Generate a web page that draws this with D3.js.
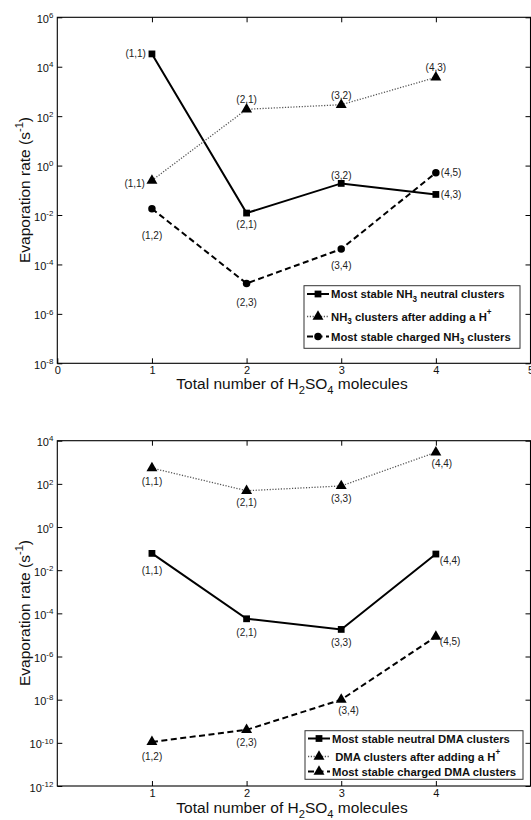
<!DOCTYPE html>
<html>
<head>
<meta charset="utf-8">
<script src="https://cdn.jsdelivr.net/npm/d3@7"></script>
<style>
  body { margin: 0; background: #fff; }
  text { font-family: Arial, "Liberation Sans", sans-serif; fill: #111; }
</style>
</head>
<body>
<svg id="chart" width="531" height="820"></svg>
<script>
/* global d3 */

// number of H2SO4 molecules
const acidCounts = [1, 2, 3, 4];

// NH3 panel
const nh3Neutral = [3.3e4, 1.2e-2, 0.19, 0.068];
const nh3NeutralLabels = ['(1,1)', '(2,1)', '(3,2)', '(4,3)'];
const nh3Protonated = [0.25, 190, 290, 3700];
const nh3ProtonatedLabels = ['(1,1)', '(2,1)', '(3,2)', '(4,3)'];
const nh3Charged = [0.018, 1.7e-5, 4.2e-4, 0.51];
const nh3ChargedLabels = ['(1,2)', '(2,3)', '(3,4)', '(4,5)'];
const nh3Legend = [
  'Most stable NH_{3} neutral clusters',
  'NH_{3} clusters after adding a H^{+}',
  'Most stable charged NH_{3} clusters',
];
const nh3Exponents = [-8, -6, -4, -2, 0, 2, 4, 6];
const nh3XTicks = [0, 1, 2, 3, 4, 5];

// DMA panel
const dmaNeutral = [0.06, 5.6e-5, 1.8e-5, 0.056];
const dmaNeutralLabels = ['(1,1)', '(2,1)', '(3,3)', '(4,4)'];
const dmaProtonated = [540, 48, 80, 2900];
const dmaProtonatedLabels = ['(1,1)', '(2,1)', '(3,3)', '(4,4)'];
const dmaCharged = [1.1e-10, 4e-10, 1e-8, 8.3e-6];
const dmaChargedLabels = ['(1,2)', '(2,3)', '(3,4)', '(4,5)'];
const dmaLegend = [
  'Most stable neutral DMA clusters',
  ' DMA clusters after adding a H^{+}',
  'Most stable charged DMA clusters',
];
const dmaExponents = [-12, -10, -8, -6, -4, -2, 0, 2, 4];
const dmaXTicks = [1, 2, 3, 4];

const yTitle = 'Evaporation rate (s^{-1})';
const xTitle = 'Total number of H_{2}SO_{4} molecules';

// where each point label sits relative to its marker: [dx, dy, anchor]
const L = (dx, dy) => [dx, dy, 'end'];
const R = (dx, dy) => [dx, dy, 'start'];
const C = (dx, dy) => [dx, dy, 'middle'];

const styles = {
  solid: { stroke: '#000', width: 2, dash: null },
  dotted: { stroke: '#555', width: 1.3, dash: '1.2,1.6' },
  dashed: { stroke: '#000', width: 2, dash: '6,3.5' },
};

const panels = [
  {
    top: 17.3, bottom: 363.3, exps: nh3Exponents, xTicks: nh3XTicks,
    series: [
      { values: nh3Neutral, labels: nh3NeutralLabels, style: 'solid', marker: d3.symbolSquare, size: 46,
        spots: [L(-6, 3.5), C(0, 14.5), C(0, -4.5), R(5, 3.5)] },
      { values: nh3Protonated, labels: nh3ProtonatedLabels, style: 'dotted', marker: d3.symbolTriangle, size: 52,
        spots: [L(-7, 7), C(0, -6), C(0, -6), C(0, -6)] },
      { values: nh3Charged, labels: nh3ChargedLabels, style: 'dashed', marker: d3.symbolCircle, size: 44,
        spots: [C(0, 30.5), C(0, 22.5), C(0, 19.5), R(5, 3.5)] },
    ],
    legend: { x: 304, y: 285.7, w: 216, h: 62.6, rows: [294, 316.5, 336.5], names: nh3Legend },
    yTitleY: 190, xTitleY: 389,
  },
  {
    top: 440.7, bottom: 786, exps: dmaExponents, xTicks: dmaXTicks,
    series: [
      { values: dmaNeutral, labels: dmaNeutralLabels, style: 'solid', marker: d3.symbolSquare, size: 46,
        spots: [C(0, 20.5), C(0, 17.5), C(0, 16.5), R(4, 10)] },
      { values: dmaProtonated, labels: dmaProtonatedLabels, style: 'dotted', marker: d3.symbolTriangle, size: 52,
        spots: [C(0, 16.5), C(0, 15.5), C(0, 16.5), C(6, 14.5)] },
      { values: dmaCharged, labels: dmaChargedLabels, style: 'dashed', marker: d3.symbolTriangle, size: 52,
        spots: [C(0, 18.5), C(0, 16.5), R(-3, 14.5), R(4, 8.5)] },
    ],
    legend: { x: 305, y: 730.7, w: 218, h: 48.6, rows: [738.5, 756.5, 771.5], names: dmaLegend },
    yTitleY: 613, xTitleY: 813,
  },
];

// text with _{sub} and ^{sup} parts
const richText = (textSel, str, fs) => {
  const parts = str.split(/(_\{[^}]*\}|\^\{[^}]*\})/).filter(p => p !== '');
  let shift = 0;
  parts.forEach(p => {
    let target = 0;
    let size = fs;
    let content = p;
    if (p.startsWith('_{')) {
      target = fs * 0.35; size = fs * 0.72; content = p.slice(2, -1);
    } else if (p.startsWith('^{')) {
      target = -fs * 0.45; size = fs * 0.72; content = p.slice(2, -1);
    }
    const t = textSel.append('tspan');
    if (target !== shift) t.attr('dy', target - shift);
    shift = target;
    t.style('font-size', `${size}px`).text(content);
  });
};

const svg = d3.select('#chart');
const x = d3.scaleLinear().domain([0, 5]).range([57.3, 530.5]);
const [left, right] = x.range();

panels.forEach(p => {
  const y = d3.scaleLog()
    .domain([10 ** p.exps[0], 10 ** p.exps[p.exps.length - 1]])
    .range([p.bottom, p.top]);
  const yTicks = p.exps.map(e => 10 ** e);
  const g = svg.append('g');

  // left axis with 10^n labels
  const yAxisG = g.append('g')
    .attr('transform', `translate(${left},0)`)
    .call(d3.axisLeft(y).tickValues(yTicks).tickSize(-5).tickPadding(4).tickFormat(''))
    .attr('font-family', null)
    .attr('font-size', null);
  yAxisG.select('.domain').remove();
  yAxisG.selectAll('.tick text')
    .style('text-anchor', 'end')
    .each(function addLabel(d) {
      richText(d3.select(this), `10^{${Math.round(Math.log10(d))}}`, 11);
    });

  // right axis, ticks only
  g.append('g')
    .attr('transform', `translate(${right},0)`)
    .call(d3.axisRight(y).tickValues(yTicks).tickSize(-5).tickFormat(''))
    .call(a => a.select('.domain').remove());

  // bottom axis
  const xAxisG = g.append('g')
    .attr('transform', `translate(0,${p.bottom})`)
    .call(d3.axisBottom(x).tickValues(p.xTicks).tickSize(-5).tickPadding(3).tickFormat(d3.format('d')))
    .attr('font-family', null)
    .attr('font-size', null);
  xAxisG.select('.domain').remove();
  xAxisG.selectAll('.tick text').style('font-size', '11px');

  // top axis, ticks only
  g.append('g')
    .attr('transform', `translate(0,${p.top})`)
    .call(d3.axisTop(x).tickValues(acidCounts).tickSize(-5).tickFormat(''))
    .call(a => a.select('.domain').remove());

  g.append('rect')
    .attr('x', left)
    .attr('y', p.top)
    .attr('width', right - left)
    .attr('height', p.bottom - p.top)
    .attr('fill', 'none')
    .attr('stroke', '#000')
    .attr('stroke-width', 1.1);

  // series
  const line = d3.line()
    .x((d, i) => x(acidCounts[i]))
    .y(d => y(d));

  p.series.forEach(s => {
    const st = styles[s.style];
    g.append('path')
      .attr('d', line(s.values))
      .attr('fill', 'none')
      .attr('stroke', st.stroke)
      .attr('stroke-width', st.width)
      .attr('stroke-dasharray', st.dash);

    const sym = d3.symbol().type(s.marker).size(s.size);
    g.selectAll(null)
      .data(s.values)
      .enter().append('path')
        .attr('d', sym)
        .attr('transform', (d, i) => `translate(${x(acidCounts[i])},${y(d)})`)
        .attr('fill', '#000');

    g.selectAll(null)
      .data(s.values)
      .enter().append('text')
        .attr('x', (d, i) => x(acidCounts[i]) + s.spots[i][0])
        .attr('y', (d, i) => y(d) + s.spots[i][1])
        .attr('text-anchor', (d, i) => s.spots[i][2])
        .style('font-size', '10px')
        .style('fill', '#222')
        .text((d, i) => s.labels[i]);
  });

  // legend
  const lg = p.legend;
  g.append('rect')
    .attr('x', lg.x)
    .attr('y', lg.y)
    .attr('width', lg.w)
    .attr('height', lg.h)
    .attr('fill', '#fff')
    .attr('stroke', '#333')
    .attr('stroke-width', 1);

  p.series.forEach((s, i) => {
    const st = styles[s.style];
    const ry = lg.rows[i];
    g.append('line')
      .attr('x1', lg.x + 3)
      .attr('x2', lg.x + 25)
      .attr('y1', ry)
      .attr('y2', ry)
      .attr('stroke', st.stroke)
      .attr('stroke-width', st.width)
      .attr('stroke-dasharray', st.dash);
    g.append('path')
      .attr('d', d3.symbol().type(s.marker).size(s.size)())
      .attr('transform', `translate(${lg.x + 14},${ry})`)
      .attr('fill', '#000');
    const t = g.append('text')
      .attr('x', lg.x + 27)
      .attr('y', ry + 4)
      .style('font-weight', 'bold')
      .style('white-space', 'pre');
    richText(t, lg.names[i], 11.3);
  });

  // axis titles
  const yt = g.append('text')
    .attr('transform', `translate(30,${p.yTitleY}) rotate(-90)`)
    .attr('text-anchor', 'middle');
  richText(yt, yTitle, 15.5);

  const xt = g.append('text')
    .attr('x', 292)
    .attr('y', p.xTitleY)
    .attr('text-anchor', 'middle');
  richText(xt, xTitle, 15.5);
});
</script>
</body>
</html>
